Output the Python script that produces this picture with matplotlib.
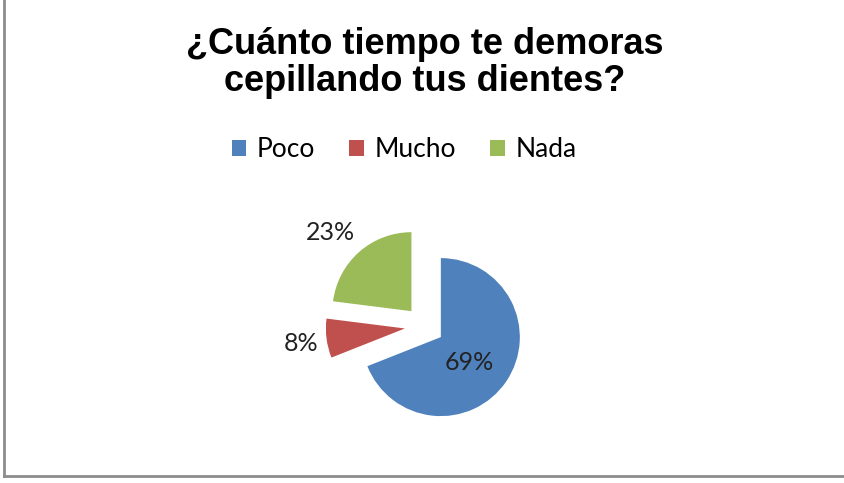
import numpy as np
import matplotlib
matplotlib.use("Agg")
import matplotlib.pyplot as plt
from matplotlib.patches import Patch
from matplotlib.lines import Line2D

categories = ["Poco", "Mucho", "Nada"]
values = [69, 8, 23]
colors = ["#4F81BD", "#C0504D", "#9BBB59"]
title = "¿Cuánto tiempo te demoras\ncepillando tus dientes?"

W, H = 844, 483
fig = plt.figure(figsize=(W / 100, H / 100), dpi=100)

# pie axes: centre at (424.5, 326) px, radius 79 px
R = 79.0
L = 1.5
cx, cy = 424.5, 326.0
side = 2 * L * R
ax = fig.add_axes([(cx - side / 2) / W, (H - cy - side / 2) / H, side / W, side / H])

explode = [0.25, 0.25, 0.25]
wedges, texts, autotexts = ax.pie(values, colors=colors, startangle=90, counterclock=False,
                                  explode=explode, autopct="%d%%", pctdistance=0.5,
                                  textprops=dict(family="Lato", fontsize=18, color="#222222"))
# label distance from the exploded apex and angular nudge (deg) per slice
pct_dist = [0.47, 1.32, 1.44]
ang_nudge = [-6, 0, 4]
for w, t, d, a in zip(wedges, autotexts, pct_dist, ang_nudge):
    th = np.deg2rad((w.theta1 + w.theta2) / 2 + a)
    ox, oy = w.center
    t.set_position((ox + d * np.cos(th), oy + d * np.sin(th) - 0.02))
    t.set_ha("center"); t.set_va("center")
ax.set_xlim(-L, L)
ax.set_ylim(-L, L)
ax.set_aspect("equal")
ax.axis("off")

fig.text(425 / W, 1 - 63 / H, title, ha="center", va="center", fontsize=26,
         fontweight="bold", family="Liberation Sans", linespacing=1.1)

handles = [Patch(facecolor=c, edgecolor="none", label=n) for n, c in zip(categories, colors)]
fig.legend(handles=handles, loc="center", bbox_to_anchor=(404 / W, 1 - 150 / H), ncol=3,
           frameon=False, prop=dict(family="Lato", size=19), handlelength=0.55, handleheight=0.55,
           handletextpad=0.4, columnspacing=1.3)

# frame lines: left and bottom
fig.add_artist(Line2D([4 / W, 4 / W], [1, 1 - 476 / H], transform=fig.transFigure,
                      color="#8c8c8c", lw=2))
fig.add_artist(Line2D([4 / W, 1], [1 - 476 / H, 1 - 476 / H], transform=fig.transFigure,
                      color="#8c8c8c", lw=2))

fig.savefig("out.png", dpi=100)
